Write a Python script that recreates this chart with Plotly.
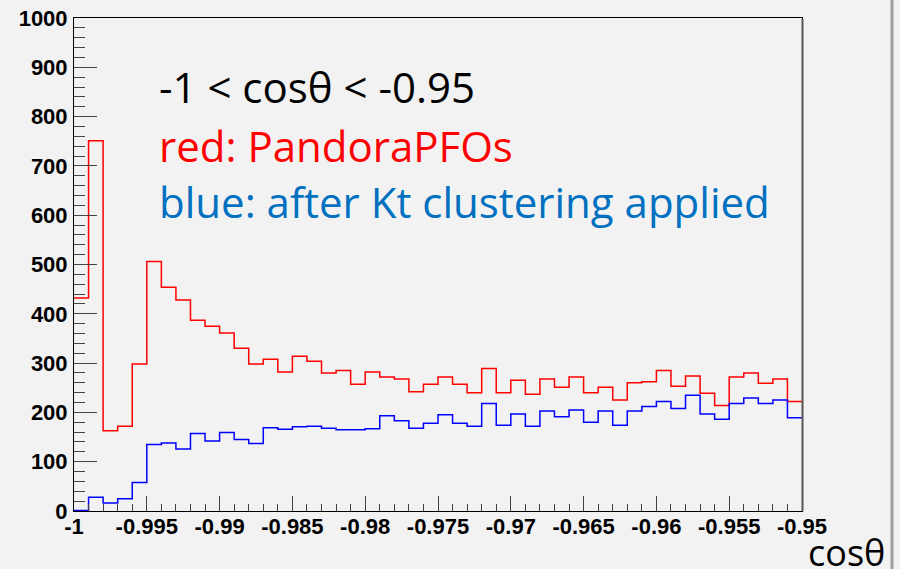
import plotly.graph_objects as go

# bin edges: 50 bins from -1 to -0.95
x_min = -1.0
x_max = -0.95
n_bins = 50

red_vals = [432, 751, 163, 172, 298, 506, 454, 428, 387, 375,
            361, 330, 298, 308, 282, 314, 304, 280, 285, 257,
            282, 272, 268, 242, 257, 272, 257, 240, 289, 240,
            265, 237, 268, 251, 272, 240, 251, 225, 260, 262,
            285, 253, 274, 239, 214, 272, 280, 259, 268, 222]

blue_vals = [1, 28, 16, 25, 58, 135, 138, 126, 157, 142,
             159, 145, 137, 169, 166, 171, 172, 168, 165, 165,
             167, 193, 183, 168, 178, 195, 178, 172, 218, 174,
             197, 172, 203, 191, 205, 180, 203, 174, 203, 212,
             222, 208, 235, 197, 186, 218, 229, 218, 225, 189]

x_tick_vals = [-1, -0.995, -0.99, -0.985, -0.98, -0.975, -0.97, -0.965, -0.96, -0.955, -0.95]
x_tick_text = ["-1", "-0.995", "-0.99", "-0.985", "-0.98", "-0.975", "-0.97", "-0.965", "-0.96", "-0.955", "-0.95"]
y_tick_vals = [0, 100, 200, 300, 400, 500, 600, 700, 800, 900, 1000]
y_tick_text = [str(v) for v in y_tick_vals]

bw = (x_max - x_min) / n_bins
edges = [x_min + i * bw for i in range(n_bins + 1)]

def step(vals):
    return edges, list(vals) + [vals[-1]]

fig = go.Figure()
for vals, col in [(red_vals, "#ff0000"), (blue_vals, "#0000ff")]:
    xs, ys = step(vals)
    fig.add_trace(go.Scatter(x=xs, y=ys, mode="lines", line=dict(color=col, width=1.5, shape="hv"),
                             hoverinfo="skip", showlegend=False, cliponaxis=False))

W, H = 900, 569
L, R, T, B = 74, 98, 18, 58
pw = W - L - R
ph = H - T - B

def px(xp):
    return (xp - L) / pw

def py(yp):
    return (H - B - yp) / ph

tickfont = dict(family="Liberation Sans, Arial, sans-serif", size=22, color="black", weight="bold")

fig.update_layout(
    width=W, height=H,
    margin=dict(l=L, r=R, t=T, b=B, autoexpand=False),
    paper_bgcolor="#f2f2f2", plot_bgcolor="#f2f2f2",
    xaxis=dict(range=[x_min, x_max], tickmode="array", tickvals=x_tick_vals, ticktext=x_tick_text,
               ticks="inside", ticklen=15, tickwidth=1, tickcolor="#444",
               minor=dict(tickmode="linear", tick0=-1, dtick=0.001, ticks="inside", ticklen=7,
                          tickwidth=1, tickcolor="#444", showgrid=False),
               showline=True, linecolor="black", linewidth=1, mirror=True, automargin=False,
               showgrid=False, zeroline=False, tickfont=tickfont, ticklabelstandoff=-4),
    yaxis=dict(range=[0, 1000], tickmode="array", tickvals=y_tick_vals, ticktext=y_tick_text,
               ticks="inside", ticklen=23, tickwidth=1, tickcolor="#444",
               minor=dict(tickmode="linear", tick0=0, dtick=20, ticks="inside", ticklen=11,
                          tickwidth=1, tickcolor="#444", showgrid=False),
               showline=True, linecolor="black", linewidth=1, mirror=True, automargin=False,
               showgrid=False, zeroline=False, tickfont=tickfont, ticklabelstandoff=1),
)

txtfam = "Open Sans, sans-serif"
anns = [
    ("-1 < cosθ < -0.95", "black", 86),
    ("red: PandoraPFOs", "#ff0000", 145),
    ("blue: after Kt clustering applied", "#0070c0", 201),
]
for t, c, yp in anns:
    fig.add_annotation(text=t, xref="paper", yref="paper", x=px(157), y=py(yp),
                       xanchor="left", yanchor="middle", showarrow=False,
                       font=dict(family=txtfam, size=42, color=c))

fig.add_annotation(text="cosθ", xref="paper", yref="paper", x=px(887), y=py(552),
                   xanchor="right", yanchor="middle", showarrow=False,
                   font=dict(family=txtfam, size=36, color="black"))

# slide edge line at right and shadow of frame
fig.add_shape(type="line", xref="paper", yref="paper", x0=px(892), x1=px(892), y0=py(H + 5), y1=py(-5),
              line=dict(color="#a0a0a0", width=3))
fig.add_shape(type="line", xref="paper", yref="paper", x0=px(802.5), x1=px(802.5), y0=py(511), y1=py(19),
              line=dict(color="#555555", width=2))

fig.write_html("out.html", config={"displayModeBar": False},
               post_script="document.body.style.margin='0';document.body.style.background='#f2f2f2';document.body.style.overflow='hidden';")
